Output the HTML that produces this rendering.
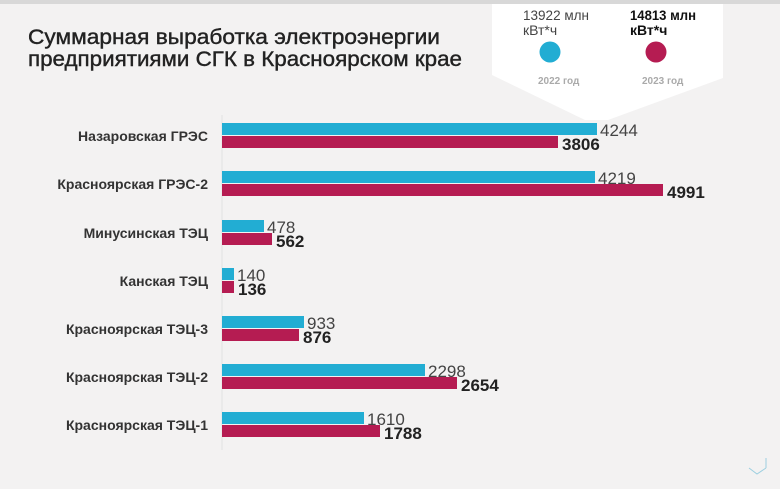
<!DOCTYPE html>
<html><head><meta charset="utf-8"><style>
html,body{margin:0;padding:0;width:780px;height:489px;overflow:hidden;background:#f3f2f2}
svg{display:block;font-family:"Liberation Sans","DejaVu Sans",sans-serif}
</style></head><body>
<svg width="780" height="489" xmlns="http://www.w3.org/2000/svg">
<rect width="780" height="489" fill="#f3f2f2"/>
<rect width="780" height="4" fill="#d8d8d8"/>
<polygon points="492,4 723,4 723,78 608,120 585,120 492,75" fill="#ffffff"/>
<text x="28" y="44" font-size="21" fill="#222" textLength="412" lengthAdjust="spacingAndGlyphs" stroke="#222" stroke-width="0.4">Суммарная выработка электроэнергии</text>
<text x="28" y="66" font-size="21" fill="#222" textLength="434" lengthAdjust="spacingAndGlyphs" stroke="#222" stroke-width="0.4">предприятиями СГК в Красноярском крае</text>
<text x="523" y="20" font-size="14" fill="#444" textLength="66" lengthAdjust="spacingAndGlyphs">13922 млн</text>
<text x="523" y="35" font-size="14" fill="#444">кВт*ч</text>
<text x="630" y="20" font-size="14" font-weight="bold" fill="#111" textLength="66" lengthAdjust="spacingAndGlyphs">14813 млн</text>
<text x="630" y="35" font-size="14" font-weight="bold" fill="#111">кВт*ч</text>
<circle cx="550" cy="52" r="10.5" fill="#22add3"/>
<circle cx="656" cy="52" r="10.5" fill="#b51c52"/>
<text x="538" y="84" font-size="10" fill="#aaa" font-weight="bold">2022 год</text>
<text x="642" y="84" font-size="10" fill="#aaa" font-weight="bold">2023 год</text>
<line x1="222" y1="115" x2="222" y2="450" stroke="#e2e2e2"/>
<g font-size="14" fill="#333" font-weight="bold" text-anchor="end">
<text x="208" y="141">Назаровская ГРЭС</text>
<text x="208" y="189">Красноярская ГРЭС-2</text>
<text x="208" y="238">Минусинская ТЭЦ</text>
<text x="208" y="286">Канская ТЭЦ</text>
<text x="208" y="334">Красноярская ТЭЦ-3</text>
<text x="208" y="382">Красноярская ТЭЦ-2</text>
<text x="208" y="430">Красноярская ТЭЦ-1</text>
</g>
<g fill="#22add3">
<rect x="222" y="123" width="375" height="12"/>
<rect x="222" y="171" width="373" height="12"/>
<rect x="222" y="220" width="42" height="12"/>
<rect x="222" y="268" width="12" height="12"/>
<rect x="222" y="316" width="82" height="12"/>
<rect x="222" y="364" width="203" height="12"/>
<rect x="222" y="412" width="142" height="12"/>
</g>
<g fill="#b51c52">
<rect x="222" y="136" width="336" height="12"/>
<rect x="222" y="184" width="441" height="12"/>
<rect x="222" y="233" width="50" height="12"/>
<rect x="222" y="281" width="12" height="12"/>
<rect x="222" y="329" width="77" height="12"/>
<rect x="222" y="377" width="235" height="12"/>
<rect x="222" y="425" width="158" height="12"/>
</g>
<g font-size="17" fill="#444">
<text x="600" y="136">4244</text>
<text x="598" y="184">4219</text>
<text x="267" y="233">478</text>
<text x="237" y="281">140</text>
<text x="307" y="329">933</text>
<text x="428" y="377">2298</text>
<text x="367" y="425">1610</text>
</g>
<g font-size="17" fill="#222" font-weight="bold">
<text x="562" y="150">3806</text>
<text x="667" y="198">4991</text>
<text x="276" y="247">562</text>
<text x="238" y="295">136</text>
<text x="303" y="343">876</text>
<text x="461" y="391">2654</text>
<text x="384" y="439">1788</text>
</g>
<polyline points="749,468 757,474 766,468" fill="none" stroke="#9ccfe0" stroke-width="1"/>
<line x1="766" y1="458" x2="766" y2="468" stroke="#9ccfe0"/>
</svg>
</body></html>
